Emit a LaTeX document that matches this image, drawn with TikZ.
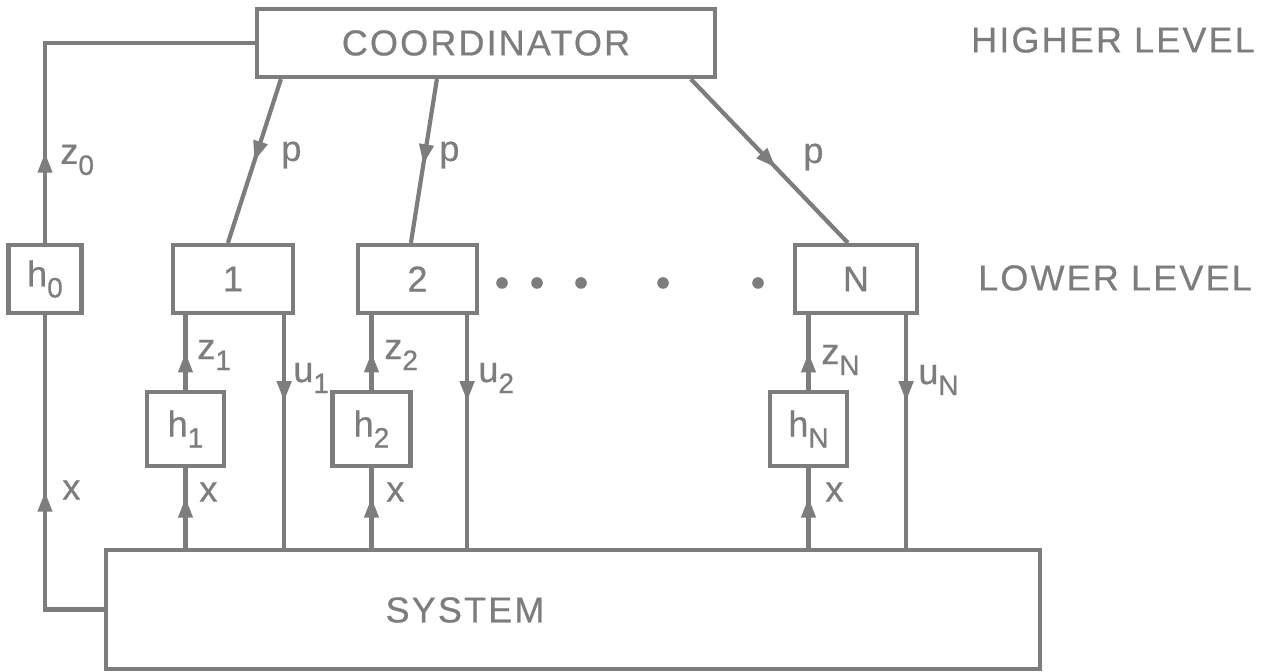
\documentclass[tikz,border=0pt]{standalone}
\usepackage{fontspec}
\setmainfont{Liberation Sans}[FakeBold=0.6]
\newfontfamily\capsfont{Liberation Sans}[LetterSpace=6, FakeBold=0.6]
\usetikzlibrary{positioning, arrows.meta, decorations.markings, calc}
\definecolor{ink}{RGB}{125,125,125}

\tikzset{
  blk/.style={draw=ink, line width=2.1pt, inner sep=0pt, text=ink,
              font=\fontsize{18}{20}\selectfont},
  wire/.style={draw=ink, line width=2.1pt},
  midarrow/.style={postaction=decorate, decoration={markings,
      mark=at position #1 with {\arrow[ink]{Triangle[width=7pt,length=10pt]}}}},
  lbl/.style={text=ink, font=\fontsize{18}{20}\selectfont, inner sep=0pt},
  caps/.style={text=ink, font=\capsfont\fontsize{18}{20}\selectfont, inner sep=0pt},
}
\newcommand{\lsub}[1]{\raisebox{-5.5pt}{\fontsize{14}{16}\selectfont #1}}

\begin{document}
\begin{tikzpicture}[x=0.5pt, y=-0.5pt]
\useasboundingbox (0,0) rectangle (1273,672);

% blocks
\node[blk, minimum width=229pt, minimum height=34pt, font=\capsfont\fontsize{18}{20}\selectfont] (coord) at (486,43) {COORDINATOR};
\node[blk, minimum width=36.5pt, minimum height=34pt] (h0) at (45,279) {h\lsub{0}};
\node[blk, minimum width=60pt, minimum height=34pt] (box1) at (233,279) {1};
\node[blk, minimum width=59.5pt, minimum height=34pt] (box2) at (417.5,279) {2};
\node[blk, minimum width=61pt, minimum height=34pt] (boxN) at (856,279) {N};
\node[blk, minimum width=38.5pt, minimum height=37pt] (h1) at (185.5,429) {h\lsub{1}};
\node[blk, minimum width=39pt, minimum height=37pt] (h2) at (371.5,429) {h\lsub{2}};
\node[blk, minimum width=38.5pt, minimum height=37pt] (hN) at (808.5,429) {h\lsub{N}};
\node[blk, minimum width=467pt, minimum height=59.5pt] (sys) at (573,609.5) {};
\node[caps] (syslabel) at (465,610) {SYSTEM};

% levels
\node[caps] (higher) at (1113,40) {HIGHER LEVEL};
\node[caps] (lower) at (1115,278) {LOWER LEVEL};

% dots
\foreach \d in {502,537,581,663,758} \fill[ink] (\d,283) circle (2.9pt);

% higher level links
\draw[wire, midarrow=0.22] (h0.north) |- (coord.west);
\draw[wire, midarrow=0.5] (sys.west) -| (h0.south);
\draw[wire, midarrow=0.5] ([xshift=13pt]coord.south west) -- ([xshift=28.5pt]box1.north west);
\draw[wire, midarrow=0.52] ([xshift=91pt]coord.south west) -- ([xshift=27.5pt]box2.north west);
\draw[wire, midarrow=0.54] ([xshift=218pt]coord.south west) -- ([xshift=27.5pt]boxN.north west);

% lower level loops
\foreach \h/\b/\u in {h1/box1/-5.5pt, h2/box2/-6pt, hN/boxN/-6.5pt} {
  \draw[wire, midarrow=0.5] (\h.north) -- (\h.north |- \b.south);
  \draw[wire, midarrow=0.63] (\h.south |- sys.north) -- (\h.south);
  \draw[wire, midarrow=0.37] ([xshift=\u]\b.south east) coordinate (\b-u)
    -- (\b-u |- sys.north);
}

% signals
\node[lbl, anchor=west] (z0) at (60,160) {z\lsub{0}};
\node[lbl, anchor=west] (x0) at (62,490) {x};
\node[lbl, anchor=west] (p1) at (281,155) {p};
\node[lbl, anchor=west] (p2) at (439,155) {p};
\node[lbl, anchor=west] (pN) at (803,157) {p};
\node[lbl, anchor=west] (z1) at (197,355) {z\lsub{1}};
\node[lbl, anchor=west] (u1) at (293,378) {u\lsub{1}};
\node[lbl, anchor=west] (x1) at (199,492) {x};
\node[lbl, anchor=west] (z2) at (384,355) {z\lsub{2}};
\node[lbl, anchor=west] (u2) at (478,378) {u\lsub{2}};
\node[lbl, anchor=west] (x2) at (386,492) {x};
\node[lbl, anchor=west] (zN) at (821,360) {z\lsub{N}};
\node[lbl, anchor=west] (uN) at (918,380) {u\lsub{N}};
\node[lbl, anchor=west] (xN) at (825,492) {x};
\end{tikzpicture}
\end{document}
